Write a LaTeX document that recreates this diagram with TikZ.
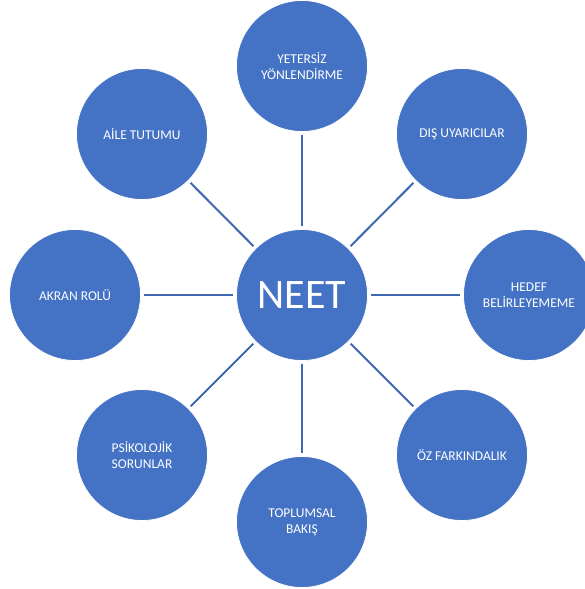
\documentclass[tikz,border=0pt]{standalone}
\usepackage{fontspec}
\setmainfont{Carlito}
\definecolor{office}{HTML}{4472C4}
\definecolor{linec}{HTML}{3F68B0}
\begin{document}
\begin{tikzpicture}[x=1pt,y=1pt,
  bub/.style={circle,fill=office,draw=white,line width=0.8pt,minimum size=131pt,inner sep=0pt,text=white,align=center,font=\fontsize{13.5}{15.5}\selectfont},
  conn/.style={draw=linec,line width=2pt,shorten <=3pt,shorten >=3pt}]
\useasboundingbox (0,0) rectangle (584,-589);
\node[bub,font=\fontsize{42}{46}\selectfont] (c) at (302,-295) {NEET};
\node[bub] (n) at (302,-66) {YETERSİZ\\YÖNLENDİRME};
\node[bub] (ne) at (462,-134) {DIŞ UYARICILAR};
\node[bub] (e) at (529,-295) {HEDEF\\BELİRLEYEMEME};
\node[bub] (se) at (462,-455) {ÖZ FARKINDALIK};
\node[bub] (s) at (302,-522) {TOPLUMSAL\\BAKIŞ};
\node[bub] (sw) at (142,-455) {PSİKOLOJİK\\SORUNLAR};
\node[bub] (w) at (75,-295) {AKRAN ROLÜ};
\node[bub] (nw) at (142,-134) {AİLE TUTUMU};
\foreach \t in {n,ne,e,se,s,sw,w,nw}{\draw[conn] (c) -- (\t);}
\end{tikzpicture}
\end{document}
